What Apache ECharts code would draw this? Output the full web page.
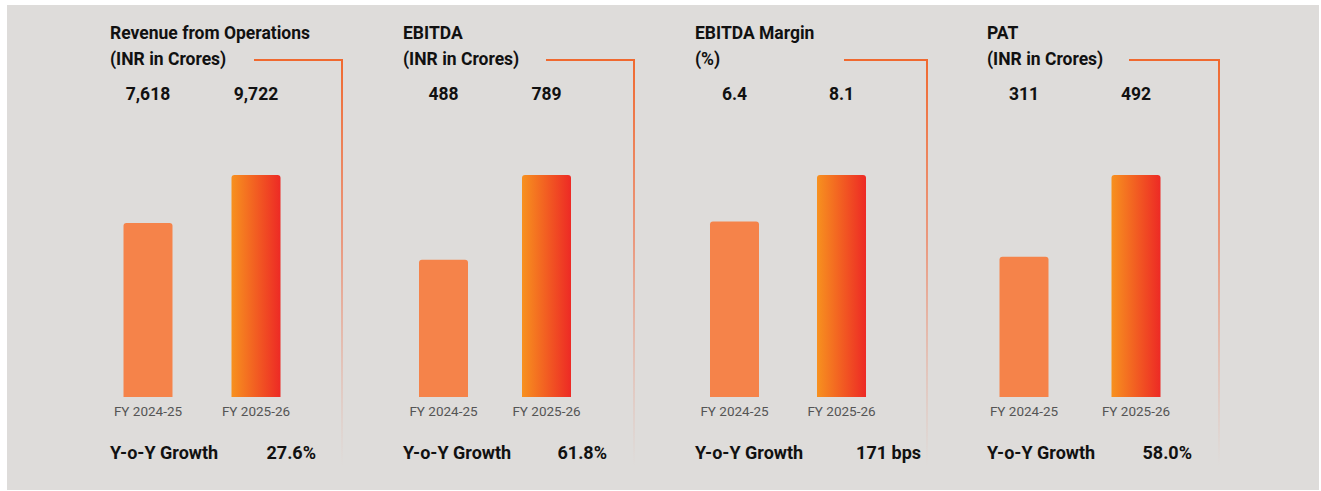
<!DOCTYPE html>
<html>
<head>
<meta charset="utf-8">
<script src="https://cdn.jsdelivr.net/npm/echarts@6/dist/echarts.min.js"></script>
<style>
  html, body { margin: 0; padding: 0; background: #ffffff; }
  #bg { position: absolute; left: 7px; top: 5px; width: 1312px; height: 485px; background: #dedcda; }
  #main { position: absolute; left: 0; top: 0; width: 1321px; height: 491px; }
</style>
</head>
<body>
<div id="bg"></div>
<div id="main"></div>
<script>
// data
var categories = ['FY 2024-25', 'FY 2025-26'];
var titles = ['Revenue from Operations', 'EBITDA', 'EBITDA Margin', 'PAT'];
var units = ['(INR in Crores)', '(INR in Crores)', '(%)', '(INR in Crores)'];
var prevYear = [7618, 488, 6.4, 311];
var currYear = [9722, 789, 8.1, 492];
var decimals = [0, 0, 1, 0];
var growth = ['27.6%', '61.8%', '171 bps', '58.0%'];

// layout of the four panels
var gridLeft = [94, 392, 681, 968];
var gridWidth = [216, 206, 214, 224];
var titleX = [110, 403, 695, 987];
var lineStartX = [254, 546, 844, 1129];
var lineX = [341, 633, 926, 1218];
var growthRight = [316, 607, 921, 1192];

var font = 'Roboto, "Noto Sans", sans-serif';

function fmt(v, d) {
  return v.toLocaleString('en-US', { minimumFractionDigits: d, maximumFractionDigits: d });
}

var myChart = echarts.init(document.getElementById('main'), null, { renderer: 'svg' });

var grid = [], xAxis = [], yAxis = [], series = [], title = [], graphics = [];

for (var i = 0; i < 4; i++) {
  grid.push({ left: gridLeft[i], width: gridWidth[i], top: 175, height: 222 });

  xAxis.push({
    type: 'category', gridIndex: i, data: categories,
    axisLine: { show: false }, axisTick: { show: false },
    axisLabel: { color: '#555', fontSize: 13.5, fontFamily: font, margin: 7 }
  });
  xAxis.push({
    type: 'category', gridIndex: i, position: 'top',
    data: [fmt(prevYear[i], decimals[i]), fmt(currYear[i], decimals[i])],
    axisLine: { show: false }, axisTick: { show: false },
    axisLabel: { color: '#111', fontSize: 17.5, fontWeight: 'bold', fontFamily: font, margin: 72 }
  });
  yAxis.push({
    type: 'value', gridIndex: i, min: 0,
    max: function (v) { return v.max; },
    show: false, splitLine: { show: false }
  });

  series.push({
    type: 'bar', xAxisIndex: i * 2, yAxisIndex: i, barWidth: 49,
    silent: true,
    data: [
      { value: prevYear[i], itemStyle: { color: '#f5834a', borderRadius: [3, 3, 0, 0] } },
      {
        value: currYear[i],
        itemStyle: {
          borderRadius: [3, 3, 0, 0],
          color: new echarts.graphic.LinearGradient(0, 0, 1, 0, [
            { offset: 0, color: '#f7911f' },
            { offset: 1, color: '#ed2a25' }
          ])
        }
      }
    ]
  });

  title.push({
    text: titles[i] + '\n' + units[i],
    left: titleX[i] - 5, top: 15,
    textStyle: { color: '#111', fontSize: 17.5, fontWeight: 'bold', fontFamily: font, lineHeight: 26 }
  });

  // decorative bracket line
  graphics.push({
    type: 'line', silent: true,
    shape: { x1: lineStartX[i], y1: 60, x2: lineX[i] + 1, y2: 60 },
    style: { stroke: '#f0692f', lineWidth: 2 }
  });
  graphics.push({
    type: 'rect', silent: true,
    shape: { x: lineX[i], y: 59, width: 2, height: 407 },
    style: {
      fill: new echarts.graphic.LinearGradient(0, 0, 0, 1, [
        { offset: 0, color: 'rgba(240,105,47,1)' },
        { offset: 0.45, color: 'rgba(238,130,95,0.75)' },
        { offset: 1, color: 'rgba(235,160,140,0)' }
      ])
    }
  });

  // growth row
  graphics.push({
    type: 'text', silent: true, left: titleX[i], top: 443,
    style: { text: 'Y-o-Y Growth', fill: '#111', font: 'bold 18px ' + font }
  });
  graphics.push({
    type: 'text', silent: true, right: 1321 - growthRight[i], top: 443,
    style: { text: growth[i], fill: '#111', font: 'bold 18px ' + font }
  });
}

var option = {
  animation: false,
  backgroundColor: 'transparent',
  title: title,
  grid: grid,
  xAxis: xAxis,
  yAxis: yAxis,
  series: series,
  graphic: graphics
};

myChart.setOption(option);
</script>
</body>
</html>
